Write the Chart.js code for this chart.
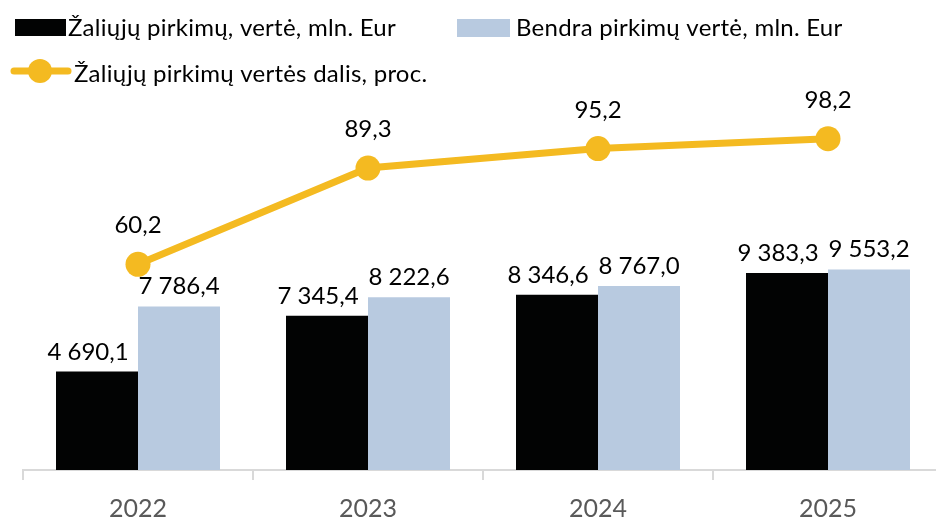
<!DOCTYPE html>
<html>
<head>
<meta charset="utf-8">
<script src="https://cdn.jsdelivr.net/npm/chart.js@4/dist/chart.umd.min.js"></script>
<style>
  html, body { margin: 0; padding: 0; background: #fff; overflow: hidden; }
  #wrap { width: 936px; height: 522px; overflow: hidden; position: relative; }
</style>
</head>
<body>
<div id="wrap"><canvas id="myChart" width="960" height="537"></canvas></div>
<script>
const years = ['2022', '2023', '2024', '2025'];
const greenValues = [4690.1, 7345.4, 8346.6, 9383.3];
const totalValues = [7786.4, 8222.6, 8767.0, 9553.2];
const greenShare = [60.2, 89.3, 95.2, 98.2];

const FONT = 'Lato, "Open Sans", sans-serif';
const BLACK = '#020303';
const BLUE = '#B8CAE0';
const YELLOW = '#F4BA21';

function fmt(v) {
  const parts = v.toFixed(1).split('.');
  return parts[0].replace(/\B(?=(\d{3})+(?!\d))/g, ' ') + ',' + parts[1];
}

// value labels above bars and points
const valueLabels = {
  id: 'valueLabels',
  afterDatasetsDraw(chart) {
    const ctx = chart.ctx;
    ctx.save();
    ctx.font = '24px ' + FONT;
    ctx.fillStyle = '#000';
    ctx.textAlign = 'center';
    ctx.textBaseline = 'alphabetic';
    chart.data.datasets.forEach((ds, i) => {
      const meta = chart.getDatasetMeta(i);
      meta.data.forEach((el, j) => {
        const txt = fmt(ds.data[j]);
        if (ds.type === 'line') {
          ctx.fillText(txt, el.x, el.y - 31);
        } else {
          const dx = i === 0 ? -9 : 0;
          ctx.fillText(txt, el.x + dx, el.y - 12);
        }
      });
    });
    ctx.restore();
  }
};

// legend drawn at top-left like the original
const topLegend = {
  id: 'topLegend',
  afterDraw(chart) {
    const ctx = chart.ctx;
    ctx.save();
    ctx.font = '24px ' + FONT;
    ctx.letterSpacing = '0.25px';
    ctx.textBaseline = 'alphabetic';
    ctx.textAlign = 'left';
    ctx.fillStyle = BLACK;
    ctx.fillRect(15, 19, 51, 17);
    ctx.fillStyle = '#000';
    ctx.fillText(chart.data.datasets[0].label, 68, 36);
    ctx.fillStyle = BLUE;
    ctx.fillRect(457, 19, 53, 18);
    ctx.fillStyle = '#000';
    ctx.fillText(chart.data.datasets[1].label, 516, 36);
    ctx.strokeStyle = YELLOW;
    ctx.lineWidth = 7;
    ctx.lineCap = 'round';
    ctx.beginPath();
    ctx.moveTo(14, 71);
    ctx.lineTo(68, 71);
    ctx.stroke();
    ctx.fillStyle = YELLOW;
    ctx.beginPath();
    ctx.arc(40, 71, 12, 0, Math.PI * 2);
    ctx.fill();
    ctx.fillStyle = '#000';
    ctx.fillText(chart.data.datasets[2].label, 74, 82);
    ctx.restore();
  }
};

const ctx = document.getElementById('myChart').getContext('2d');

const myChart = new Chart(ctx, {
  type: 'bar',
  data: {
    labels: years,
    datasets: [
      {
        label: 'Žaliųjų pirkimų, vertė, mln. Eur',
        data: greenValues,
        backgroundColor: BLACK,
        categoryPercentage: 0.713,
        barPercentage: 1,
        yAxisID: 'y',
        order: 1
      },
      {
        label: 'Bendra pirkimų vertė, mln. Eur',
        data: totalValues,
        backgroundColor: BLUE,
        categoryPercentage: 0.713,
        barPercentage: 1,
        yAxisID: 'y',
        order: 1
      },
      {
        type: 'line',
        label: 'Žaliųjų pirkimų vertės dalis, proc.',
        data: greenShare,
        borderColor: YELLOW,
        backgroundColor: YELLOW,
        borderWidth: 7,
        pointRadius: 12.5,
        pointBackgroundColor: YELLOW,
        pointBorderWidth: 0,
        tension: 0,
        yAxisID: 'y1',
        order: 0
      }
    ]
  },
  options: {
    responsive: false,
    animation: false,
    devicePixelRatio: 1,
    layout: {
      padding: { top: 50, left: 23, right: 17, bottom: 0 }
    },
    scales: {
      x: {
        offset: true,
        grid: {
          display: true,
          offset: true,
          drawOnChartArea: false,
          drawTicks: true,
          tickLength: 10,
          color: '#D9D9D9',
          lineWidth: 2
        },
        border: { display: true, color: '#D9D9D9', width: 2 },
        ticks: {
          color: '#595959',
          padding: 16,
          font: { family: FONT, size: 25, lineHeight: 1 }
        }
      },
      y: {
        display: false,
        min: 0,
        max: 20000
      },
      y1: {
        display: false,
        position: 'right',
        min: -2,
        max: 125
      }
    },
    plugins: {
      legend: { display: false },
      tooltip: { enabled: false }
    }
  },
  plugins: [valueLabels, topLegend]
});
</script>
</body>
</html>
